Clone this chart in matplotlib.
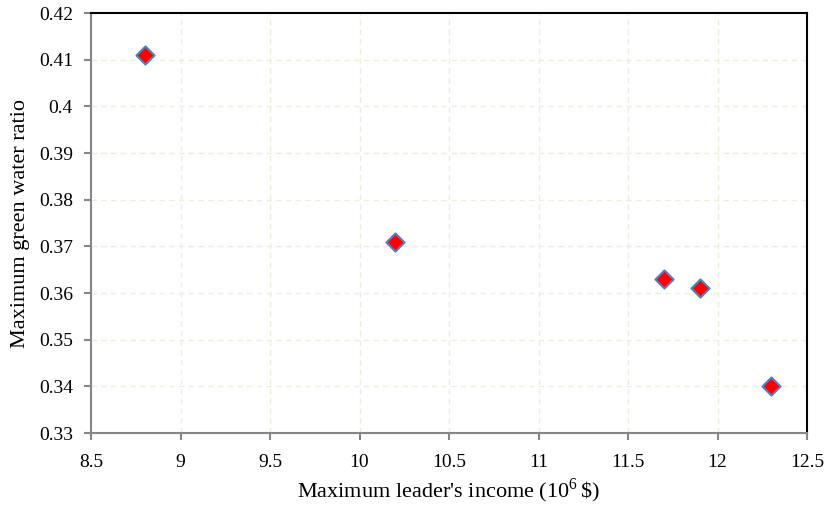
import matplotlib
matplotlib.use("Agg")
import matplotlib.pyplot as plt

# Leader's income vs. green water ratio
income = [8.8, 10.2, 11.7, 11.9, 12.3]
green_ratio = [0.411, 0.371, 0.363, 0.361, 0.340]

x_ticks = [8.5, 9, 9.5, 10, 10.5, 11, 11.5, 12, 12.5]
x_tick_labels = ["8.5", "9", "9.5", "10", "10.5", "11", "11.5", "12", "12.5"]
y_ticks = [0.33, 0.34, 0.35, 0.36, 0.37, 0.38, 0.39, 0.40, 0.41, 0.42]
y_tick_labels = ["0.33", "0.34", "0.35", "0.36", "0.37", "0.38", "0.39", "0.4", "0.41", "0.42"]

plt.rcParams["font.family"] = ["Liberation Serif", "DejaVu Serif"]
plt.rcParams["mathtext.fontset"] = "custom"
plt.rcParams["mathtext.rm"] = "Liberation Serif"

W, H = 829, 507
fig = plt.figure(figsize=(W / 100, H / 100), dpi=100)
ax = fig.add_axes([91 / W, 1 - 433 / H, (807 - 91) / W, (433 - 13) / H])

ax.scatter(income, green_ratio, marker="D", s=85, facecolor="#ff0000",
           edgecolor="#4f81bd", linewidth=1.5, zorder=3)

ax.set_xlim(8.5, 12.5)
ax.set_ylim(0.33, 0.42)
ax.set_xticks(x_ticks)
ax.set_xticklabels(x_tick_labels)
ax.set_yticks(y_ticks)
ax.set_yticklabels(y_tick_labels)

ax.grid(True, color="#eeeedd", linestyle=(0, (4, 3)), linewidth=1.0, zorder=0)

for side in ("left", "bottom"):
    ax.spines[side].set_color("#868686")
    ax.spines[side].set_linewidth(1.5)
for side in ("top", "right"):
    ax.spines[side].set_color("black")
    ax.spines[side].set_linewidth(1.5)

ax.tick_params(axis="both", direction="out", length=5, width=1.5, color="#868686",
               labelsize=14)
ax.tick_params(axis="x", pad=10)
ax.tick_params(axis="y", pad=8)

ax.set_xlabel("Maximum leader's income (10$^{\\mathrm{6}}\\,$\\$)", fontsize=16, labelpad=4)
ax.set_ylabel("Maximum green water ratio", fontsize=16, labelpad=6)

fig.savefig("out.png", dpi=100)
